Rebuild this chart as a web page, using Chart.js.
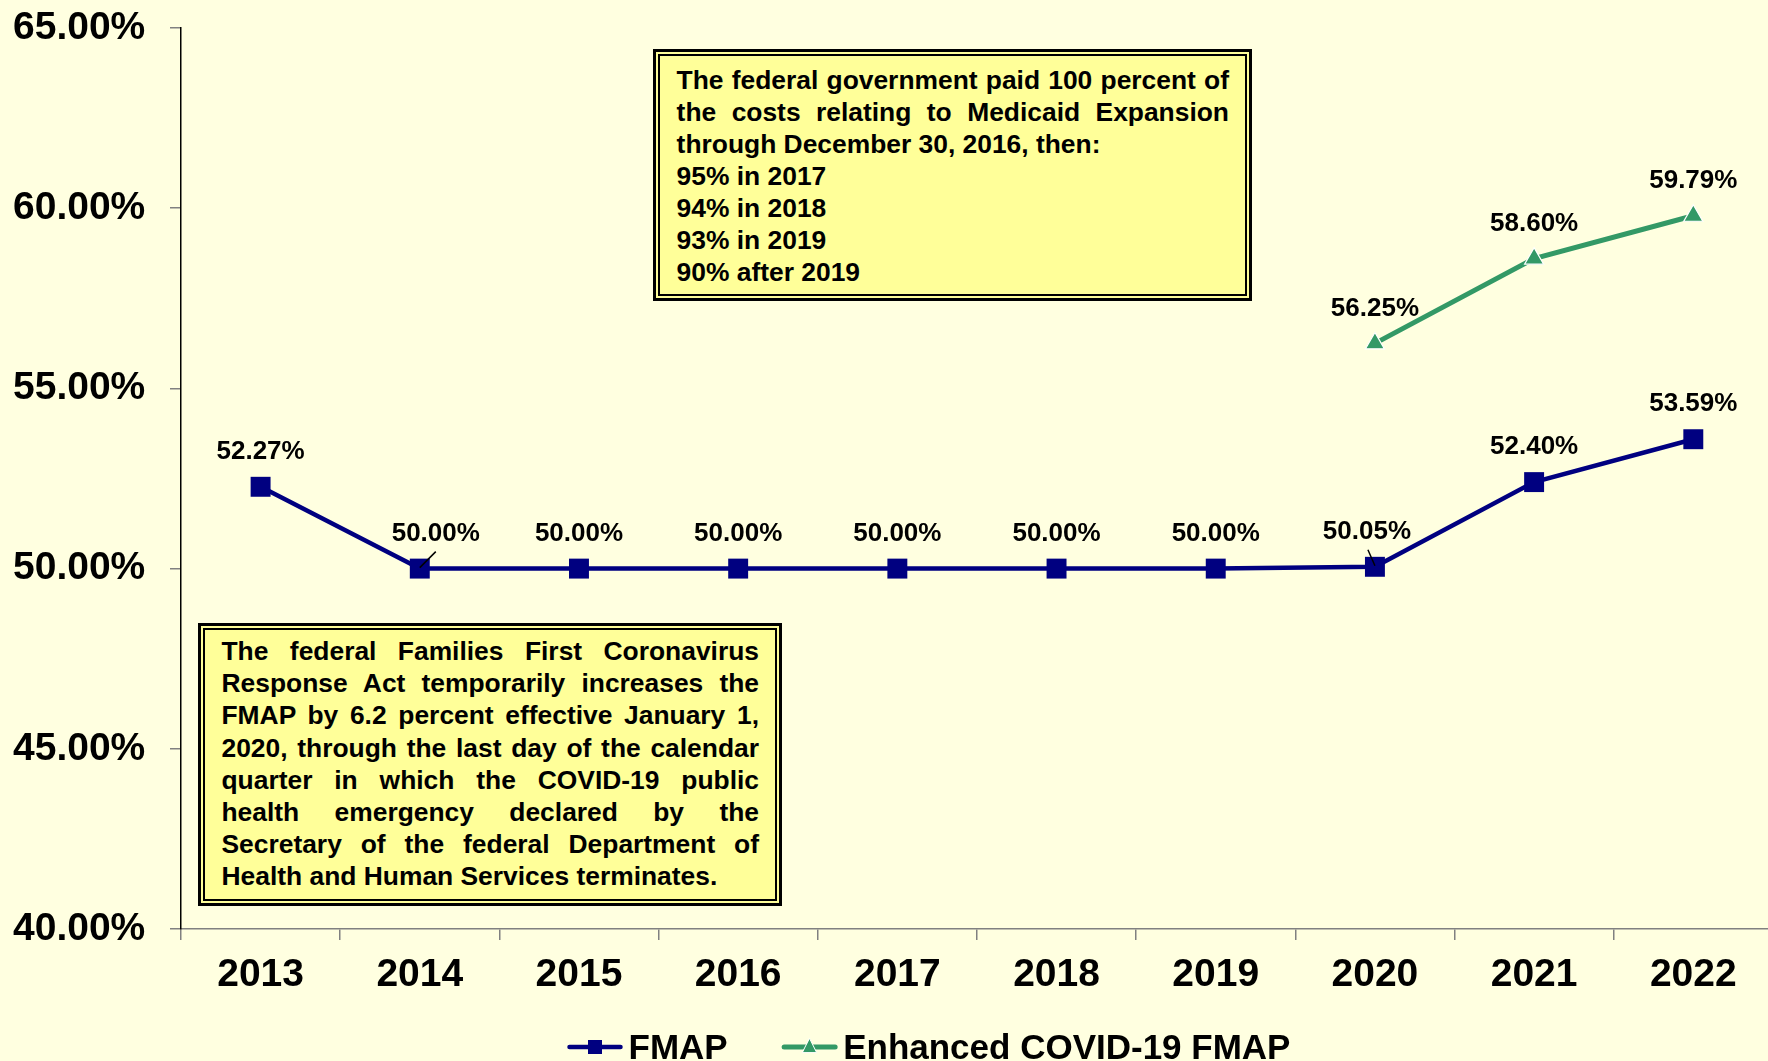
<!DOCTYPE html>
<html><head><meta charset="utf-8">
<script src="https://cdn.jsdelivr.net/npm/chart.js@4.4.1/dist/chart.umd.min.js"></script>
<style>
html,body{margin:0;padding:0;background:#FFFFE0;overflow:hidden;width:1768px;height:1061px;}
#wrap{position:relative;width:1787px;height:1061px;}
canvas{position:absolute;left:0;top:0;}
.note{position:absolute;box-sizing:border-box;border:3px solid #000;padding:2px;background:#FFFF99;font:bold 26.4px "Liberation Sans",Arial,sans-serif;color:#000;}
.note .in{box-sizing:border-box;border:2px solid #000;height:100%;}
.note .ln{height:32px;line-height:32px;}
.note .j{text-align:justify;text-align-last:justify;}
#n1{left:653px;top:49px;width:599px;height:252px;}
#n1 .in{padding:8px 16px 0 16.6px;}
#n2{left:198px;top:623px;width:584px;height:283px;}
#n2 .in{padding:5px 16px 0 16.5px;}
#n2 .ln{height:32.2px;line-height:32.2px;}
</style></head><body>
<div id="wrap"><canvas id="c" width="1787" height="1061"></canvas>
<div class="note" id="n1"><div class="in" id="n1i"></div></div>
<div class="note" id="n2"><div class="in" id="n2i"></div></div>
</div>
<script>
const years = ['2013','2014','2015','2016','2017','2018','2019','2020','2021','2022'];
const fmap = [52.27, 50.00, 50.00, 50.00, 50.00, 50.00, 50.00, 50.05, 52.40, 53.59];
const enhanced = [null, null, null, null, null, null, null, 56.25, 58.60, 59.79];
const seriesNames = ['FMAP', 'Enhanced COVID-19 FMAP'];
const yMin = 40, yMax = 65, yStep = 5;

const note1Lines = [
  'The federal government paid 100 percent of',
  'the costs relating to Medicaid Expansion',
  'through December 30, 2016, then:',
  '95% in 2017',
  '94% in 2018',
  '93% in 2019',
  '90% after 2019'
];
const note1Justify = [true, true, false, false, false, false, false];
const note2Lines = [
  'The federal Families First Coronavirus',
  'Response Act temporarily increases the',
  'FMAP by 6.2 percent effective January 1,',
  '2020, through the last day of the calendar',
  'quarter in which the COVID-19 public',
  'health emergency declared by the',
  'Secretary of the federal Department of',
  'Health and Human Services terminates.'
];
const note2Justify = [true, true, true, true, true, true, true, false];

function fillNote(id, lines, just) {
  const el = document.getElementById(id);
  lines.forEach((t, i) => {
    const d = document.createElement('div');
    d.className = 'ln' + (just[i] ? ' j' : '');
    d.textContent = t;
    el.appendChild(d);
  });
}
fillNote('n1i', note1Lines, note1Justify);
fillNote('n2i', note2Lines, note2Justify);

const NAVY = '#000080', GREEN = '#339966';
const FONT = '"Liberation Sans", Arial, sans-serif';
Chart.defaults.font.family = FONT;

function drawMarker(g, style, x, y, color, size) {
  g.fillStyle = color;
  if (style === 'rect') {
    g.fillRect(x - size / 2, y - size / 2, size, size);
  } else {
    g.beginPath();
    g.moveTo(x, y - size * 0.6);
    g.lineTo(x + size / 2, y + size * 0.4);
    g.lineTo(x - size / 2, y + size * 0.4);
    g.closePath();
    g.fill();
    g.strokeStyle = '#ffffff'; g.lineWidth = 1; g.stroke();
  }
}

const legendSpec = {startX: 567, lineY: 1047, baseline: 1059, lineLen: 56, textGap: 5.5, itemGap: 54, markerSize: [14, 14]};
const bottomLegend = {
  id: 'bottomLegend',
  afterDraw(chart) {
    const g = chart.ctx;
    g.save();
    g.font = 'bold 35px ' + FONT;
    g.textAlign = 'left';
    g.textBaseline = 'alphabetic';
    let x = legendSpec.startX;
    chart.data.datasets.forEach((ds, i) => {
      const y = legendSpec.lineY;
      g.strokeStyle = ds.borderColor; g.lineWidth = ds.borderWidth; g.lineCap = 'round';
      g.beginPath(); g.moveTo(x + 2.5, y); g.lineTo(x + legendSpec.lineLen - 2.5, y); g.stroke();
      drawMarker(g, ds.pointStyle, x + legendSpec.lineLen / 2, y, ds.borderColor, legendSpec.markerSize[i]);
      x += legendSpec.lineLen + legendSpec.textGap;
      g.fillStyle = '#000';
      g.fillText(ds.label, x, legendSpec.baseline);
      x += g.measureText(ds.label).width + legendSpec.itemGap;
    });
    g.restore();
  }
};

const labelTweaks = {
  '0-1': {dx: 16, lead: [[0, -1], [16, -17]]},
  '0-7': {dx: -8, lead: [[-7, -17], [0, -1]]}
};
const valueLabels = {
  id: 'valueLabels',
  afterDatasetsDraw(chart) {
    const ctx = chart.ctx;
    ctx.save();
    ctx.font = 'bold 26px ' + FONT;
    ctx.fillStyle = '#000';
    ctx.textAlign = 'center';
    ctx.textBaseline = 'middle';
    chart.data.datasets.forEach((ds, i) => {
      const meta = chart.getDatasetMeta(i);
      meta.data.forEach((pt, j) => {
        const v = ds.data[j];
        if (v === null || v === undefined) return;
        const tw = labelTweaks[i + '-' + j] || {dx: 0};
        ctx.fillText(v.toFixed(2) + '%', pt.x + tw.dx, pt.y - 35);
        if (tw.lead) {
          ctx.strokeStyle = '#000'; ctx.lineWidth = 1.5;
          ctx.beginPath();
          ctx.moveTo(pt.x + tw.lead[0][0], pt.y + tw.lead[0][1]);
          ctx.lineTo(pt.x + tw.lead[1][0], pt.y + tw.lead[1][1]);
          ctx.stroke();
        }
      });
    });
    ctx.restore();
  }
};

new Chart(document.getElementById('c'), {
  type: 'line',
  data: {
    labels: years,
    datasets: [
      {label: seriesNames[0], data: fmap, borderColor: NAVY, backgroundColor: NAVY, borderWidth: 4.5,
       pointStyle: 'rect', pointRadius: 14.1, pointBackgroundColor: NAVY, pointBorderColor: NAVY, pointBorderWidth: 0, tension: 0},
      {label: seriesNames[1], data: enhanced, borderColor: GREEN, backgroundColor: GREEN, borderWidth: 5,
       pointStyle: 'triangle', pointRadius: 11, pointBackgroundColor: GREEN, pointBorderColor: '#ffffff', pointBorderWidth: 1.2, tension: 0}
    ]
  },
  options: {
    responsive: false, animation: false, devicePixelRatio: 1,
    layout: {padding: {left: 13, top: 28, right: 0, bottom: 0}},
    plugins: {
      tooltip: {enabled: false},
      legend: {display: false}
    },
    scales: {
      x: {
        offset: true,
        grid: {offset: true, drawOnChartArea: false, drawTicks: true, tickLength: 11, color: '#808080', tickColor: '#808080', lineWidth: 1.5},
        border: {color: '#808080', width: 1.5},
        ticks: {padding: 12, color: '#000', font: {size: 39, weight: 'bold', family: FONT}, maxRotation: 0, autoSkip: false},
        afterFit: (s) => { s.height = 132; }
      },
      y: {
        min: yMin, max: yMax,
        grid: {drawOnChartArea: false, drawTicks: true, tickLength: 11, color: '#808080', tickColor: '#808080', lineWidth: 1.5},
        border: {color: '#000', width: 1.5},
        ticks: {stepSize: yStep, padding: 0, crossAlign: 'far', color: '#000', font: {size: 39, weight: 'bold', family: FONT},
                callback: (v) => v.toFixed(2) + '%'},
        afterFit: (s) => { s.width = 168; }
      }
    }
  },
  plugins: [valueLabels, bottomLegend]
});
</script>
</body></html>
